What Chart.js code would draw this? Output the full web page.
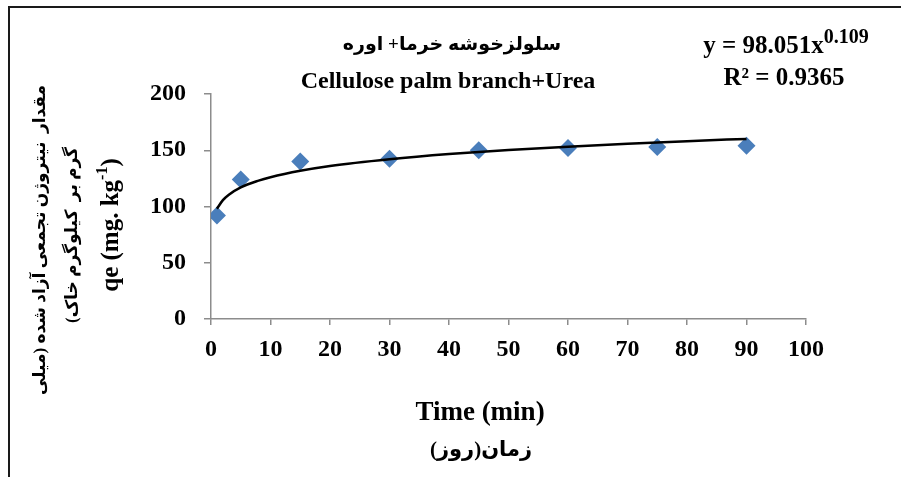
<!DOCTYPE html>
<html>
<head>
<meta charset="utf-8">
<script src="https://cdn.jsdelivr.net/npm/chart.js@4"></script>
<style>
  html, body { margin: 0; padding: 0; background: #fff; }
  #wrap { width: 901px; height: 477px; }
</style>
</head>
<body>
<div id="wrap"><canvas id="kineticChart" width="901" height="477"></canvas></div>
<script>
// measured points (time in min, qe in mg/kg)
const timeValues = [1, 5, 15, 30, 45, 60, 75, 90];
const qeValues = [92, 124, 140, 142.5, 150, 152, 153, 154];

// power trendline
const trendX = [1, 2, 3, 5, 8, 10, 15, 20, 30, 40, 50, 60, 70, 80, 90];
const trendY = [98, 105.7, 110.5, 117, 123, 126, 131.7, 136, 142, 146.6, 150.2, 153.2, 155.8, 158.1, 160.1];

const xTicks = [0, 10, 20, 30, 40, 50, 60, 70, 80, 90, 100];
const yTicks = [0, 50, 100, 150, 200];

const titleFa = 'سلولزخوشه خرما+ اوره';
const titleEn = 'Cellulose palm branch+Urea';
const xTitleEn = 'Time (min)';
const xTitleFa = 'زمان(روز)';
const yTitleFa1 = 'مقدار  نیتروژن تجمعی آزاد شده (میلی';
const yTitleFa2 = 'گرم بر  کیلوگرم خاک)';

const serif = "'Liberation Serif', 'Times New Roman', serif";
const faFont = "'Liberation Serif', 'DejaVu Sans', sans-serif";
const axisGray = '#8c8c8c';

function toPoints(xs, ys) {
  return xs.map((x, i) => ({ x: x, y: ys[i] }));
}

// draws "base" then a raised small "sup" text and a "tail", centred on cx
function drawSup(ctx, base, sup, tail, cx, cy, size, supSize) {
  ctx.font = 'bold ' + size + 'px ' + serif;
  const wb = ctx.measureText(base).width;
  const wt = ctx.measureText(tail).width;
  ctx.font = 'bold ' + supSize + 'px ' + serif;
  const ws = ctx.measureText(sup).width;
  let x = cx - (wb + ws + wt) / 2;
  ctx.textAlign = 'left';
  ctx.font = 'bold ' + size + 'px ' + serif;
  ctx.fillText(base, x, cy);
  x += wb;
  ctx.font = 'bold ' + supSize + 'px ' + serif;
  ctx.fillText(sup, x, cy - size * 0.36);
  x += ws;
  ctx.font = 'bold ' + size + 'px ' + serif;
  ctx.fillText(tail, x, cy);
}

const textPlugin = {
  id: 'textPlugin',
  afterDraw(chart) {
    const ctx = chart.ctx;
    ctx.save();
    // outer frame (cropped at right and bottom)
    ctx.strokeStyle = '#1a1a1a';
    ctx.lineWidth = 2;
    ctx.strokeRect(9, 7, 1000, 1000);

    ctx.fillStyle = '#000';
    ctx.textBaseline = 'middle';

    // chart title
    ctx.textAlign = 'center';
    ctx.direction = 'rtl';
    ctx.font = 'bold 19px ' + faFont;
    ctx.fillText(titleFa, 452, 45);
    ctx.direction = 'ltr';
    ctx.font = 'bold 24px ' + serif;
    ctx.fillText(titleEn, 448, 82);

    // trendline equation
    drawSup(ctx, 'y = 98.051x', '0.109', '', 786, 47, 25, 20);
    ctx.textAlign = 'center';
    ctx.font = 'bold 25px ' + serif;
    ctx.fillText('R² = 0.9365', 784, 79);

    // x axis title
    ctx.font = 'bold 27px ' + serif;
    ctx.fillText(xTitleEn, 480, 413);
    ctx.direction = 'rtl';
    ctx.font = 'bold 21px ' + faFont;
    ctx.fillText(xTitleFa, 481, 451);

    // y axis title, three rotated lines
    ctx.save();
    ctx.translate(41, 240);
    ctx.rotate(-Math.PI / 2);
    ctx.direction = 'rtl';
    ctx.font = 'bold 17px ' + faFont;
    ctx.fillText(yTitleFa1, 0, 0);
    ctx.restore();

    ctx.save();
    ctx.translate(73, 235);
    ctx.rotate(-Math.PI / 2);
    ctx.direction = 'rtl';
    ctx.font = 'bold 17px ' + faFont;
    ctx.fillText(yTitleFa2, 0, 0);
    ctx.restore();

    ctx.save();
    ctx.translate(112, 225);
    ctx.rotate(-Math.PI / 2);
    ctx.direction = 'ltr';
    drawSup(ctx, 'qe (mg. kg', '-1', ')', 0, 0, 25, 16);
    ctx.restore();

    ctx.restore();
  }
};

const data = {
  datasets: [{
    label: 'qe',
    data: toPoints(timeValues, qeValues),
    pointStyle: 'rectRot',
    pointRadius: 9,
    pointHoverRadius: 9,
    backgroundColor: '#4a7ebb',
    borderColor: '#4a7ebb',
    borderWidth: 0,
    showLine: false,
    order: 2
  },
  {
    label: 'Power trend',
    data: toPoints(trendX, trendY),
    showLine: true,
    borderColor: '#000',
    borderWidth: 2.5,
    pointRadius: 0,
    cubicInterpolationMode: 'monotone',
    fill: false,
    order: 1
  }]
};

const tickFont = { family: serif, size: 24, weight: 'bold' };

const config = {
  type: 'scatter',
  data: data,
  options: {
    responsive: false,
    animation: false,
    layout: { padding: { left: 0, top: 94, right: 95, bottom: 0 } },
    plugins: {
      legend: { display: false },
      tooltip: { enabled: false }
    },
    scales: {
      x: {
        type: 'linear',
        min: 0,
        max: 100,
        afterBuildTicks: (scale) => { scale.ticks = xTicks.map(v => ({ value: v })); },
        afterFit: (scale) => { scale.height = 158; },
        ticks: { color: '#000', font: tickFont, padding: 10 },
        grid: { display: true, drawOnChartArea: false, drawTicks: true, tickLength: 6, color: axisGray, lineWidth: 1.5 },
        border: { display: true, color: axisGray, width: 1.5 }
      },
      y: {
        type: 'linear',
        min: 0,
        max: 200,
        afterBuildTicks: (scale) => { scale.ticks = yTicks.map(v => ({ value: v })); },
        afterFit: (scale) => { scale.width = 211; },
        ticks: { color: '#000', font: tickFont, padding: 18 },
        grid: { display: true, drawOnChartArea: false, drawTicks: true, tickLength: 7, color: axisGray, lineWidth: 1.5 },
        border: { display: true, color: axisGray, width: 1.5 }
      }
    }
  },
  plugins: [textPlugin]
};

const kineticCanvas = document.getElementById('kineticChart').getContext('2d');
const kineticChart = new Chart(kineticCanvas, config);
</script>
</body>
</html>
